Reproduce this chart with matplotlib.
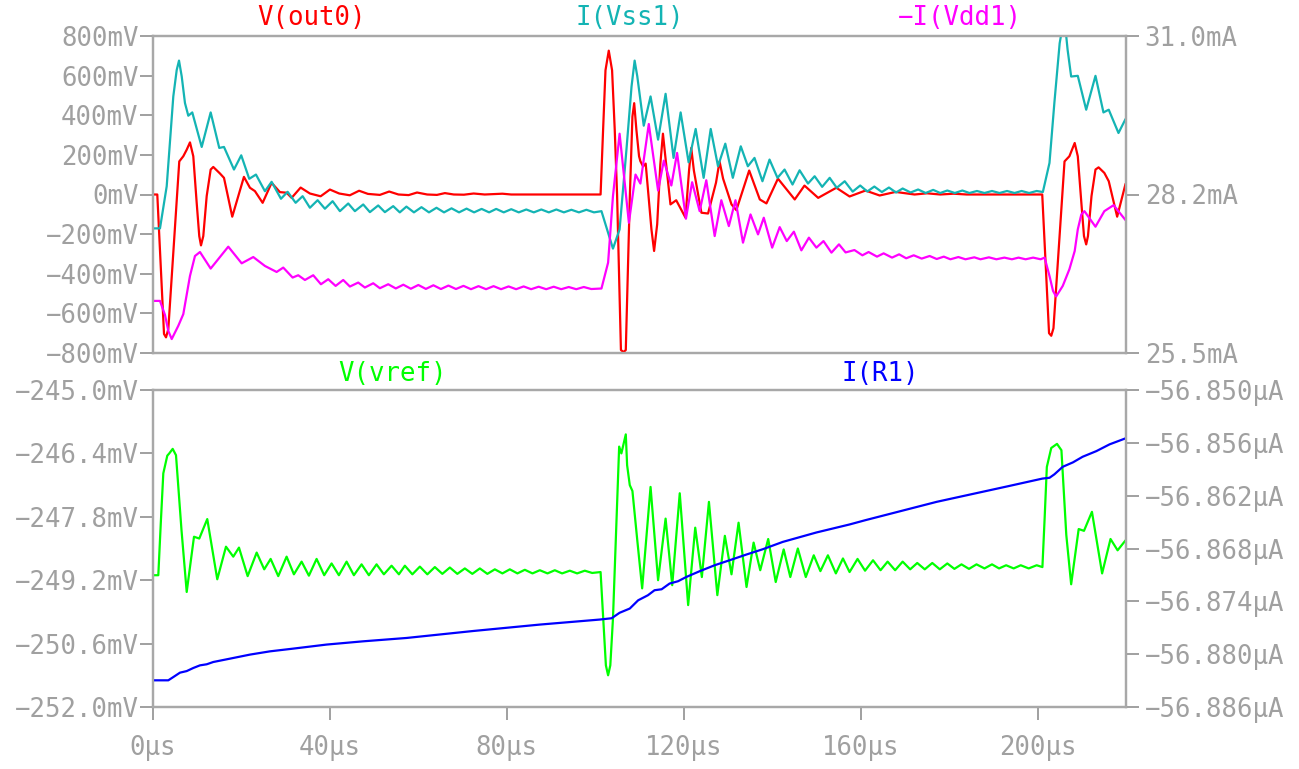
import matplotlib
matplotlib.use("Agg")
import matplotlib.pyplot as plt

# ---------------- data (time in µs) ----------------
t_out0 = [0, 0.97, 2.49, 2.94, 3.46, 5.94, 6.85, 7.62, 8.36, 9.11, 9.87, 10.46, 10.85, 11.37, 12.14, 13.04,
          13.63, 15.14, 16.05, 17.92, 20.56, 21.92,
          23.05, 24.79, 26.82, 28.70, 30.21, 31.34, 33.38, 35.48, 37.90, 40.0, 42.1, 44.5, 46.6, 48.6,
          51.3, 53.4, 55.5, 57.8, 59.7, 62.0, 64.2, 66.0, 68.0, 70.3, 72.5, 75.0, 79.0, 81.0, 101.2,
          101.77, 102.31, 103.05, 103.8, 104.4, 104.93, 105.8, 106.4, 106.9, 107.8, 108.4, 108.8, 109.3,
          109.9, 110.2, 110.8, 111.4, 112.7, 113.3, 114.0, 114.7, 115.3, 115.8, 117.0, 118.3, 120.4,
          121.2, 121.7, 122.3, 124.0, 125.5, 127.3, 128.1, 128.9, 130.8, 131.9, 134.8,
          137.2, 138.7, 141.3, 145.1, 147.3, 150.4, 154.5, 157.5, 161.1, 164.3, 167.9, 172.2, 175.0,
          178.0, 181.0, 184.0, 201.06, 202.6, 203.1, 203.6, 206.1, 207.2, 208.4, 209.1, 209.9, 210.5,
          211.0, 211.4, 212.2, 213.1, 213.8, 215.1, 216.1, 218.0, 219.9]
v_out0 = [0, 0, -704, -721, -680, 167, 193, 226, 263, 193, -40, -210, -257, -210, -8, 126,
          139, 106, 84, -112, 89, 34,
          17, -42, 59, 12, 9, -17, 35, 5, -9, 25, 5, -4, 19, 3,
          -2, 15, 0, -3, 10, 0, -2, 7, 0, -1, 5, 0, 4, 0, 0,
          327, 627, 726, 627, 327, 0, -785, -795, -785, -20, 393, 461, 326,
          193, 168, 142, 156, -176, -285, -150, 150, 307, 200, -50, -29, -117,
          120, 235, 120, -92, -96, 60, 167, 80, -50, -79, 121,
          -25, -45, 80, -25, 45, -17, 34, -10, 20, -5, 13, 0, 6,
          0, 4, 0, 0, -700, -713, -675, 167, 193, 260, 193, -40, -210,
          -252, -210, -8, 126, 137, 109, 67, -112, 54]

t_vss1 = [0, 1.58, 3.10, 4.59, 5.36, 5.88, 6.49, 7.23, 7.98, 8.88, 11.01, 13.04, 14.98, 16.05, 18.31, 19.95,
          21.76, 23.28, 25.31, 26.82, 28.93, 30.44, 32.25, 33.83, 35.48, 37.22, 38.87, 40.61, 42.26,
          44.14, 45.65, 47.53, 49.04, 50.92, 52.43, 54.31,
          55.8, 57.3, 59.0, 60.7, 62.4, 64.1, 65.8, 67.5, 69.2, 70.9, 72.6, 74.3, 76.0, 77.6, 79.3,
          81.0, 82.7, 84.4, 86.1, 87.8, 89.5, 91.2, 92.9, 94.6, 96.3, 98.0, 99.7, 101.4,
          104.0, 105.5, 107.05, 108.2, 108.9, 109.5, 110.96, 112.5, 114.2, 115.9, 117.7, 119.3, 121.1, 122.7,
          124.5, 126.1, 127.75, 129.4, 131.1, 132.9, 134.5, 136.0, 137.8, 139.4, 141.2, 142.8, 144.6,
          146.2, 148.1, 149.6, 151.3, 153.0, 154.6, 156.4,
          158.2, 159.9, 161.5, 163.1, 164.8, 166.4, 168.0, 169.5, 171.3, 173.0, 174.7, 176.4, 178.0,
          179.6, 181.3, 183.0, 184.6, 186.3, 188.0, 189.7, 191.4, 193.1, 194.8, 196.4, 198.1, 199.8,
          201.2, 202.7, 203.8, 205.0, 205.6, 206.3, 206.8, 207.6, 209.1, 211.0, 213.1, 214.9, 216.1,
          218.3, 219.9]
i_vss1 = [27.662, 27.662, 28.394, 29.951, 30.41, 30.573, 30.30, 29.836, 29.617, 29.674, 29.075, 29.674, 29.058,
          29.075, 28.683, 28.930, 28.522, 28.596, 28.307, 28.470, 28.176, 28.297, 28.106, 28.221, 28.020, 28.151,
          28.003, 28.134, 27.961, 28.094, 27.961, 28.077, 27.944, 28.060, 27.944, 28.048,
          27.940, 28.040, 27.940, 28.030, 27.940, 28.020, 27.940, 28.010, 27.940, 28.005, 27.940, 28.000,
          27.940, 28.000, 27.940, 27.995, 27.940, 27.990, 27.940, 27.990, 27.940, 27.990, 27.940, 27.985,
          27.940, 27.985, 27.940, 27.961,
          27.311, 27.645, 29.029, 30.124, 30.573, 30.30, 29.444, 29.951, 29.202, 29.997, 28.885, 29.674, 28.809,
          29.387, 28.539, 29.387, 28.740, 29.132, 28.539, 29.086, 28.740, 28.885, 28.480, 28.856, 28.539,
          28.683, 28.423, 28.670, 28.440, 28.567, 28.383, 28.539, 28.366, 28.480,
          28.300, 28.406, 28.302, 28.388, 28.293, 28.371, 28.285, 28.354, 28.285, 28.337, 28.276, 28.330,
          28.276, 28.319, 28.276, 28.319, 28.276, 28.311, 28.276, 28.311, 28.276, 28.311, 28.276, 28.311,
          28.276, 28.311,
          28.293, 28.798, 29.836, 30.874, 31.139, 31.139, 30.759, 30.297, 30.309, 29.721, 30.309, 29.674,
          29.721, 29.317, 29.560]

t_vdd1 = [0, 1.58, 2.71, 3.46, 4.23, 5.72, 6.85, 8.36, 9.49, 10.62, 13.04, 17.02, 20.05, 22.67, 25.31, 27.95,
          29.45, 31.57, 32.84, 34.35, 36.23, 37.97, 39.62, 41.29, 43.01, 44.52, 46.40, 47.91, 49.79, 51.30, 53.18,
          54.9, 56.6, 58.3, 60.0, 61.7, 63.4, 65.1, 66.8, 68.5, 70.2, 71.9, 73.6, 75.3, 77.0, 78.7, 80.4,
          82.1, 83.8, 85.5, 87.2, 88.9, 90.6, 92.3, 94.0, 95.7, 97.4, 99.1, 101.4,
          102.9, 104.0, 105.5, 107.6, 109.1, 110.2, 112.1, 114.2, 115.5, 117.2, 118.5, 120.5, 121.9, 123.6,
          125.1, 127.0, 128.5, 130.2, 131.7, 133.4, 135.1, 136.8, 138.1, 140.0, 141.7, 143.3, 144.9, 146.6,
          148.3, 150.0, 151.6, 153.4, 155.1, 156.6,
          158.6, 160.4, 161.8, 163.7, 165.2, 167.1, 168.7, 170.3, 172.0, 173.8, 175.6, 177.2, 178.8, 180.3,
          182.1, 183.7, 185.7, 187.1, 189.0, 190.7, 192.5, 194.2, 195.7, 197.3, 199.0, 200.7,
          201.6, 202.7, 203.5, 204.2, 205.7, 207.2, 208.4, 209.1, 209.9, 210.6, 213.1, 215.1, 217.2, 219.9]
i_vdd1 = [26.404, 26.404, 26.16, 25.885, 25.742, 25.972, 26.174, 26.837, 27.183, 27.252, 26.965, 27.345, 27.056,
          27.165, 27.010, 26.906, 26.982, 26.809, 26.849, 26.767, 26.849, 26.693, 26.780, 26.664, 26.767, 26.653,
          26.722, 26.636, 26.710, 26.624, 26.693,
          26.620, 26.685, 26.615, 26.680, 26.612, 26.675, 26.610, 26.670, 26.610, 26.665, 26.607, 26.660,
          26.607, 26.660, 26.607, 26.655, 26.607, 26.655, 26.607, 26.650, 26.607, 26.650, 26.607, 26.645,
          26.607, 26.645, 26.610, 26.619,
          27.068, 28.221, 29.305, 27.760, 28.596, 28.440, 29.473, 28.319, 28.838, 28.406, 28.971, 27.830,
          28.463, 27.961, 28.497, 27.529, 28.151, 27.702, 28.151, 27.414, 27.904, 27.558, 27.847, 27.328,
          27.684, 27.442, 27.605, 27.281, 27.501, 27.328, 27.442, 27.241, 27.385, 27.245,
          27.286, 27.195, 27.252, 27.172, 27.229, 27.155, 27.212, 27.143, 27.195, 27.138, 27.183, 27.131,
          27.172, 27.126, 27.165, 27.126, 27.160, 27.126, 27.160, 27.126, 27.155, 27.126, 27.155, 27.126,
          27.155, 27.126,
          27.155, 26.837, 26.577, 26.480, 26.664, 26.953, 27.269, 27.645, 27.904, 27.961, 27.691, 27.961,
          28.065, 27.805]

t_vref = [0, 1.20, 1.74, 2.33, 3.23, 3.68, 4.45, 5.20, 6.44, 7.62, 9.27, 10.46, 12.27, 14.53, 16.50, 18.15,
          19.44, 21.40, 23.44, 25.15, 26.60, 28.32, 30.21, 31.86, 33.60, 35.25, 36.99, 38.71, 40.38, 42.03,
          43.77, 45.42, 47.16, 48.81, 50.55, 52.20, 53.94,
          55.6, 56.95, 58.64, 60.34, 62.03, 63.73, 65.42, 67.12, 68.81, 70.51, 72.2, 73.9, 75.6, 77.29,
          79.0, 80.68, 82.4, 84.07, 85.8, 87.46, 89.2, 90.85, 92.5, 94.24, 95.9, 97.63, 99.3, 101.2,
          101.8, 102.4, 102.9, 103.4, 104.0, 104.8, 105.4, 105.9, 106.9, 107.2, 107.8, 108.4, 109.5,
          110.6, 111.5, 112.5, 114.2, 115.9, 117.4, 119.1, 121.0, 122.6, 124.1, 125.7, 127.6, 129.3,
          130.8, 132.4, 134.2, 135.8, 137.3, 139.1, 140.8, 142.6, 144.1, 145.8, 147.6, 149.4, 150.9,
          152.6, 154.4, 156.0, 157.5,
          159.3, 161.0, 162.8, 164.5, 166.1, 167.8, 169.5, 171.2, 172.8, 174.5, 176.2, 177.9, 179.6,
          181.2, 182.8, 184.5, 186.2, 188.0, 189.7, 191.3, 192.9, 194.6, 196.2, 198.0, 199.8, 201.1,
          201.6, 202.1, 203.1, 204.4, 205.4, 206.5, 207.6, 209.3, 210.5, 212.3, 214.6, 216.5, 218.1, 219.9]
v_vref = [-249.09, -249.09, -247.98, -246.84, -246.45, -246.40, -246.30, -246.44, -248.09, -249.46,
          -248.24, -248.28, -247.85, -249.18, -248.46, -248.68, -248.48, -249.11, -248.59, -248.96,
          -248.73, -249.11, -248.68, -249.07, -248.79, -249.10, -248.73, -249.09, -248.83, -249.09,
          -248.79, -249.09, -248.85, -249.09, -248.85, -249.07, -248.88,
          -249.07, -248.88, -249.07, -248.90, -249.07, -248.91, -249.06, -248.92, -249.06, -248.94,
          -249.06, -248.94, -249.06, -248.96, -249.05, -248.96, -249.05, -248.97, -249.05, -248.98,
          -249.05, -248.98, -249.05, -248.99, -249.05, -248.99, -249.04, -249.02,
          -250.05, -251.08, -251.30, -251.08, -250.05, -247.84, -246.25, -246.40, -245.98, -246.66,
          -247.10, -247.23, -248.32, -249.38, -248.32, -247.14, -249.20, -247.84, -249.31, -247.28,
          -249.75, -248.04, -249.13, -247.47, -249.53, -248.22, -249.07, -247.93, -249.35, -248.37,
          -248.98, -248.29, -249.24, -248.52, -249.13, -248.50, -249.13, -248.65, -249.00, -248.65,
          -249.05, -248.72, -249.02,
          -248.73, -248.99, -248.76, -248.98, -248.79, -248.98, -248.79, -248.96, -248.82, -248.96,
          -248.82, -248.96, -248.83, -248.95, -248.85, -248.95, -248.85, -248.94, -248.85, -248.94,
          -248.87, -248.94, -248.87, -248.94, -248.87, -248.91,
          -247.84, -246.70, -246.28, -246.19, -246.33, -248.20, -249.29, -248.07, -248.11, -247.69,
          -249.05, -248.29, -248.54, -248.32]

t_r1 = [0, 3.46, 4.59, 6.10, 7.62, 9.11, 10.62, 12.14, 13.63, 17.40, 21.92, 26.44, 31.71, 39.25, 47.53,
        57.33, 72.38, 87.46, 101.0, 103.7, 105.5, 107.8, 109.7, 111.9, 113.4, 115.0, 116.8, 118.7, 120.6,
        123.6, 127.0, 130.4, 134.2, 137.9, 142.4, 150.0, 157.5, 161.1, 177.2, 193.4, 201.1, 202.7, 203.8,
        205.7, 208.0, 210.2, 213.3, 216.3, 219.9]
i_r1 = [-56.88297, -56.88297, -56.88260, -56.88210, -56.88192, -56.88157, -56.88127, -56.88115, -56.88089,
        -56.88051, -56.88005, -56.87968, -56.87937, -56.87891, -56.87854, -56.87816, -56.87737, -56.87664,
        -56.87607, -56.87592, -56.87530, -56.87482, -56.87388, -56.87331, -56.87274, -56.87263, -56.87198,
        -56.87172, -56.87123, -56.87058, -56.86990, -56.86933, -56.86868, -56.86808, -56.86725, -56.86618,
        -56.86527, -56.86478, -56.86270, -56.86092, -56.86006, -56.85997, -56.85958, -56.85872, -56.85822,
        -56.85758, -56.85694, -56.85617, -56.85549]

x_ticks = [0, 40, 80, 120, 160, 200]
top_left_ticks = [-800, -600, -400, -200, 0, 200, 400, 600, 800]
top_right_ticks = [25.5, 28.25, 31.0]
top_right_labels = ["25.5mA", "28.2mA", "31.0mA"]
bot_left_ticks = [-252.0, -250.6, -249.2, -247.8, -246.4, -245.0]
bot_right_ticks = [-56.886, -56.880, -56.874, -56.868, -56.862, -56.856, -56.850]

# ---------------- style ----------------
MONO = "DejaVu Sans Mono"
GRAY = "#a0a0a0"
SPINE = "#a8a8a8"
FS = 18.5
W, H = 1299, 769

plt.rcParams["font.family"] = [MONO]

C_RED = "#ff0000"
C_TEAL = "#14b4b4"
C_MAG = "#ff00ff"
C_GREEN = "#00ff00"
C_BLUE = "#0000ff"


def m(s):
    return s.replace("-", "\u2212")


fig = plt.figure(figsize=(W / 100, H / 100), dpi=100)
L, R = 153, 1126
ax1 = fig.add_axes([L / W, 1 - 353 / H, (R - L) / W, 317 / H])
ax2 = fig.add_axes([L / W, 1 - 707 / H, (R - L) / W, 317 / H])
ax1r = ax1.twinx()
ax2r = ax2.twinx()

LW = 1.6
KW = dict(lw=LW, solid_joinstyle="round", solid_capstyle="round")
ax1.plot(t_out0, v_out0, color=C_RED, zorder=3, **KW)
ax1r.plot(t_vss1, i_vss1, color=C_TEAL, **KW)
ax1r.plot(t_vdd1, i_vdd1, color=C_MAG, **KW)
ax2.plot(t_vref, v_vref, color=C_GREEN, **KW)
ax2r.plot(t_r1, i_r1, color=C_BLUE, **KW)

for a in (ax1, ax1r, ax2, ax2r):
    a.set_xlim(0, 220)
    for sp in a.spines.values():
        sp.set_color(SPINE)
        sp.set_linewidth(1.6)
    a.tick_params(colors=GRAY, labelcolor=GRAY, labelsize=FS, length=9.5, width=1.4)

ax1.set_ylim(-800, 800)
ax1.set_yticks(top_left_ticks)
ax1.set_yticklabels([m(f"{v}mV") for v in top_left_ticks])
ax1.tick_params(axis="y", pad=1)
ax1.tick_params(axis="x", bottom=False, labelbottom=False)
ax1r.set_ylim(25.5, 31.0)
ax1r.set_yticks(top_right_ticks)
ax1r.set_yticklabels(top_right_labels)
ax1r.tick_params(axis="y", pad=4)
ax1r.tick_params(axis="x", bottom=False, labelbottom=False)

ax2.set_ylim(-252.0, -245.0)
ax2.set_yticks(bot_left_ticks)
ax2.set_yticklabels([m(f"{v:.1f}mV") for v in bot_left_ticks])
ax2.tick_params(axis="y", pad=1)
ax2.set_xticks(x_ticks)
ax2.set_xticklabels([f"{v}\u00b5s" for v in x_ticks])
ax2.tick_params(axis="x", pad=11)
ax2r.set_ylim(-56.886, -56.850)
ax2r.set_yticks(bot_right_ticks)
ax2r.set_yticklabels([m(f"{v:.3f}\u00b5A") for v in bot_right_ticks])
ax2r.tick_params(axis="y", pad=4)


def ftext(xp, yp, s, c):
    fig.text(xp / W, 1 - yp / H, s, color=c, fontsize=FS, ha="center", va="center", family=MONO)


ftext(312, 18, "V(out0)", C_RED)
ftext(630, 18, "I(Vss1)", C_TEAL)
ftext(960, 18, "\u2212I(Vdd1)", C_MAG)
ftext(393, 374, "V(vref)", C_GREEN)
ftext(880, 374, "I(R1)", C_BLUE)

fig.savefig("out.png", dpi=100, facecolor="white")
